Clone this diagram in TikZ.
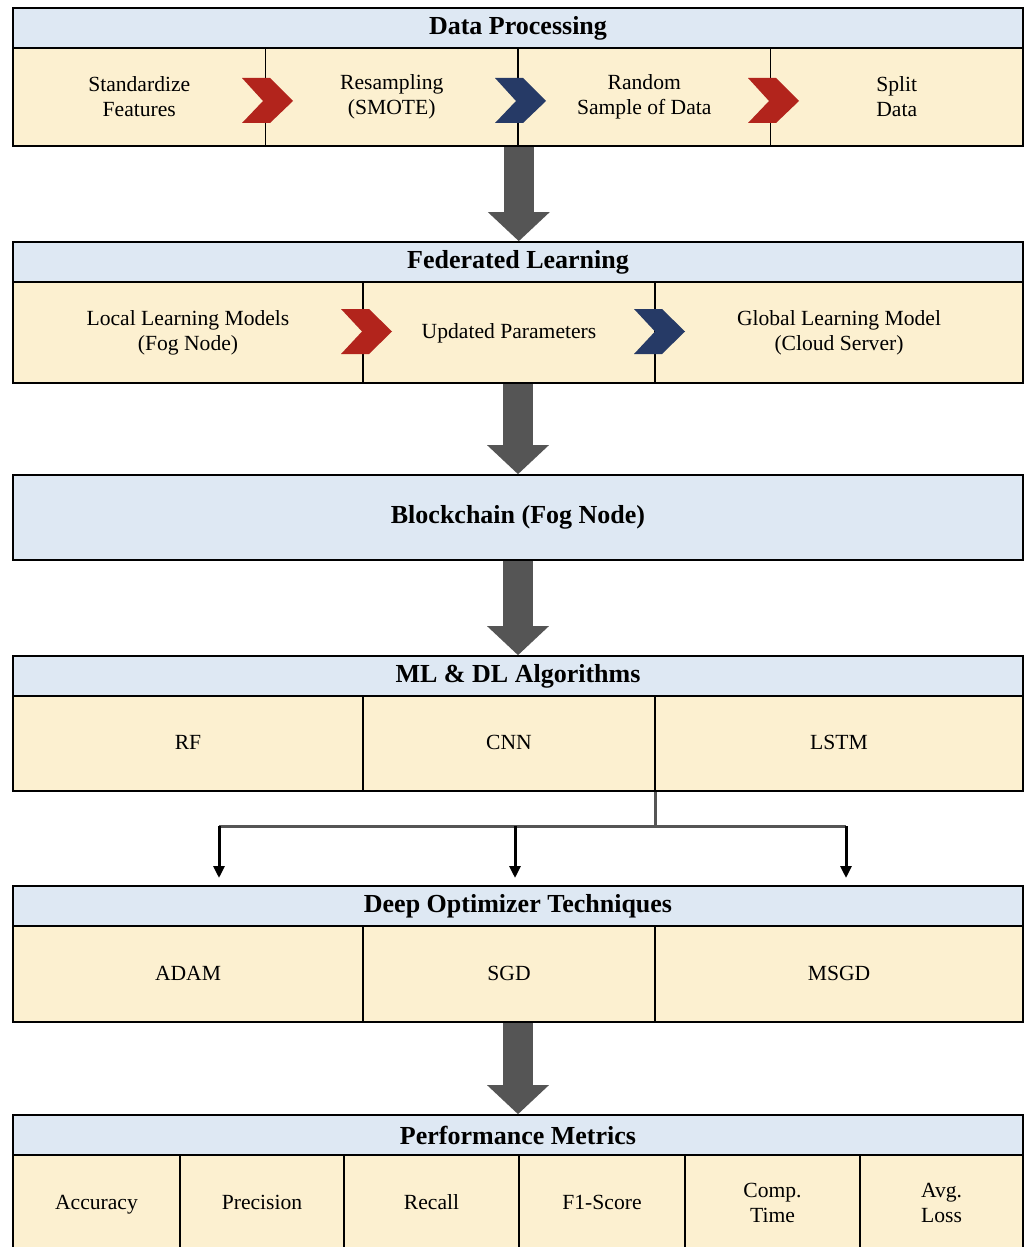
\documentclass[tikz,border=0pt]{standalone}
\usepackage{fontspec}
\setmainfont{Liberation Serif}
\usetikzlibrary{arrows.meta}
\definecolor{headblue}{RGB}{222, 232, 243}
\definecolor{cream}{RGB}{252, 240, 208}
\definecolor{chevred}{RGB}{178, 36, 28}
\definecolor{chevblue}{RGB}{38, 58, 102}
\definecolor{arrowgray}{RGB}{85, 85, 85}

\begin{document}
\begin{tikzpicture}[x = 0.5pt, y = -0.5pt,
	head/.style = {draw, line width = 0.8pt, fill = headblue, font = \bfseries\fontsize{13}{15}\selectfont, minimum width = 505pt, minimum height = 20pt, inner sep = 0pt},
	cell/.style = {draw, line width = 0.8pt, fill = cream, font = \fontsize{10.8}{12.5}\selectfont, align = center, inner sep = 0pt},
	oneline/.style = {text height = 0.75em, text depth = 0.12em},
	bigarrow/.style = {line width = 15pt, arrowgray, -{Triangle[width = 30pt, length = 14.5pt]}},
	tree/.style = {line width = 1.5pt, arrowgray},
	down/.style = {line width = 1.5pt, -{Triangle[width = 5.5pt, length = 6pt]}}]
	\useasboundingbox (0, 0) rectangle (1027, 1247);
	% data processing
	\node[head] (dp) at (518, 28) {Data Processing};
	\node[cell, minimum width = 126.25pt, minimum height = 49pt] (dp1) at (139.25, 97) {Standardize\\Features};
	\node[cell, minimum width = 126.25pt, minimum height = 49pt] (dp2) at (391.75, 97) {Resampling\\(SMOTE)};
	\node[cell, minimum width = 126.25pt, minimum height = 49pt] (dp3) at (644.25, 97) {Random\\Sample of Data};
	\node[cell, minimum width = 126.25pt, minimum height = 49pt] (dp4) at (896.75, 97) {Split\\Data};
	\fill[chevred] (242, 78) -- ++(28, 0) -- ++(23, 23) -- ++(-23, 22) -- ++(-28, 0) -- ++(21, -22) -- cycle;
	\fill[chevblue] (495, 78) -- ++(28, 0) -- ++(23, 23) -- ++(-23, 22) -- ++(-28, 0) -- ++(21, -22) -- cycle;
	\fill[chevred] (748, 78) -- ++(28, 0) -- ++(23, 23) -- ++(-23, 22) -- ++(-28, 0) -- ++(21, -22) -- cycle;
	% federated learning
	\node[head] (fl) at (518, 262) {Federated Learning};
	\node[cell, minimum width = 175pt, minimum height = 50.5pt] (fl1) at (188, 332.5) {Local Learning Models\\(Fog Node)};
	\node[cell, oneline, minimum width = 146pt, minimum height = 50.5pt] (fl2) at (509, 332.5) {Updated Parameters};
	\node[cell, minimum width = 184pt, minimum height = 50.5pt] (fl3) at (839, 332.5) {Global Learning Model\\(Cloud Server)};
	\fill[chevred] (341, 309) -- ++(28, 0) -- ++(23, 22.5) -- ++(-23, 22.5) -- ++(-28, 0) -- ++(21, -22.5) -- cycle;
	\fill[chevblue] (634, 309) -- ++(28, 0) -- ++(23, 22.5) -- ++(-23, 22.5) -- ++(-28, 0) -- ++(21, -22.5) -- cycle;
	% blockchain
	\node[head, minimum height = 42.5pt] (bc) at (518, 517.5) {Blockchain (Fog Node)};
	% ml and dl
	\node[head] (ml) at (518, 676) {ML \& DL Algorithms};
	\node[cell, oneline, minimum width = 175pt, minimum height = 47.5pt] (ml1) at (188, 743.5) {RF};
	\node[cell, oneline, minimum width = 146pt, minimum height = 47.5pt] (ml2) at (509, 743.5) {CNN};
	\node[cell, oneline, minimum width = 184pt, minimum height = 47.5pt] (ml3) at (839, 743.5) {LSTM};
	% optimizers
	\node[head] (do) at (518, 906) {Deep Optimizer Techniques};
	\node[cell, oneline, minimum width = 175pt, minimum height = 48pt] (do1) at (188, 974) {ADAM};
	\node[cell, oneline, minimum width = 146pt, minimum height = 48pt] (do2) at (509, 974) {SGD};
	\node[cell, oneline, minimum width = 184pt, minimum height = 48pt] (do3) at (839, 974) {MSGD};
	% metrics
	\node[head] (pm) at (518, 1135) {Performance Metrics};
	\node[cell, oneline, minimum width = 83.5pt, minimum height = 48pt] (pm1) at (96.5, 1203) {Accuracy};
	\node[cell, oneline, minimum width = 82pt, minimum height = 48pt] (pm2) at (262, 1203) {Precision};
	\node[cell, oneline, minimum width = 87.5pt, minimum height = 48pt] (pm3) at (431.5, 1203) {Recall};
	\node[cell, oneline, minimum width = 83pt, minimum height = 48pt] (pm4) at (602, 1203) {F1-Score};
	\node[cell, minimum width = 87.5pt, minimum height = 48pt] (pm5) at (772.5, 1203) {Comp.\\Time};
	\node[cell, minimum width = 81.5pt, minimum height = 48pt] (pm6) at (941.5, 1203) {Avg.\\Loss};
	% big arrows
	\draw[bigarrow] (dp2.south east) -- (dp2.south east |- fl.north);
	\draw[bigarrow] (fl2.south -| fl.south) -- (bc.north);
	\draw[bigarrow] (bc.south) -- (ml.north);
	\draw[bigarrow] (do2.south -| do.south) -- (pm.north);
	% split to optimizers
	\coordinate (fork) at (655, 826);
	\coordinate (b1) at (219, 826);
	\coordinate (b2) at (515, 826);
	\coordinate (b3) at (846, 826);
	\coordinate (e1) at (219, 878);
	\coordinate (e2) at (515, 878);
	\coordinate (e3) at (846, 878);
	\draw[tree] (fork |- ml3.south) -- (fork);
	\draw[tree] (b1) -- (b3);
	\draw[down] (b1) -- (e1);
	\draw[down] (b2) -- (e2);
	\draw[down] (b3) -- (e3);
\end{tikzpicture}
\end{document}
